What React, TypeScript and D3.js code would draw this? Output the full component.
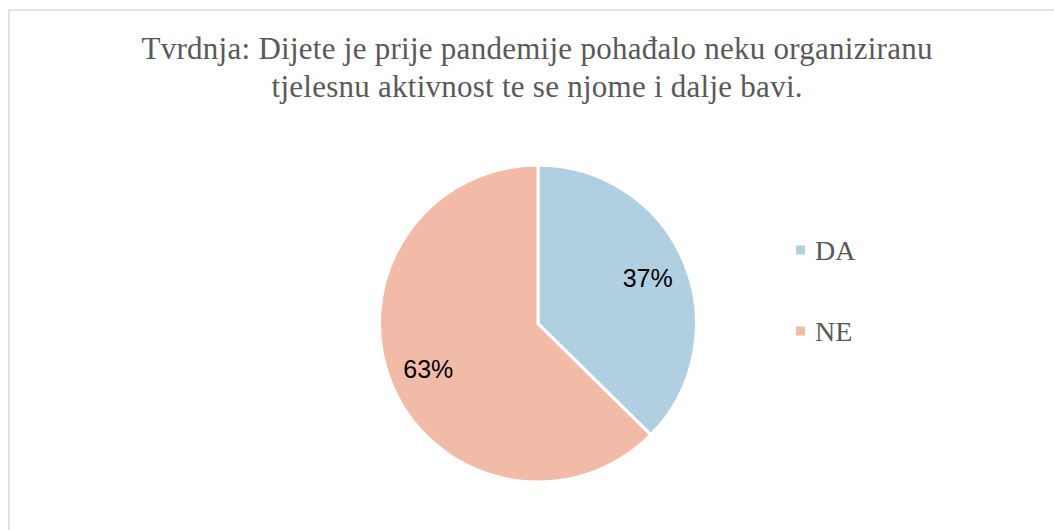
import React from "react";
import * as d3 from "d3";

const categories = ["DA", "NE"];
const values = [37.4, 62.6];
const labels = ["37%", "63%"];
const colors = ["#b0d0e2", "#f2bba8"];
const titleLines = [
  "Tvrdnja: Dijete je prije pandemije pohađalo neku organiziranu",
  "tjelesnu aktivnost te se njome i dalje bavi.",
];

export default function App() {
  const W = 1054, H = 530;
  const cx = 538, cy = 323.5, r = 158.5;
  const pie = d3.pie<number>().sort(null)(values);
  const arc = d3.arc<d3.PieArcDatum<number>>().innerRadius(0).outerRadius(r);
  const labelArc = d3.arc<d3.PieArcDatum<number>>().innerRadius(r * 0.75).outerRadius(r * 0.75);
  const legendY = d3.scalePoint<string>().domain(categories).range([250, 331]);
  const titleWidths = [791, 531];
  return (
    <svg width={W} height={H} style={{ position: "absolute", left: 0, top: 0 }}>
      <rect x={0} y={0} width={W} height={H} fill="#fff" />
      <rect x={9} y={10} width={W + 20} height={H + 20} fill="none" stroke="#d9d9d9" strokeWidth={1.5} />
      {titleLines.map((t, i) => (
        <text key={i} x={537} y={59 + i * 37.5} textAnchor="middle" textLength={titleWidths[i]} lengthAdjust="spacing" fontFamily="'Liberation Serif', 'Times New Roman', serif" fontSize={31} fill="#595959">
          {t}
        </text>
      ))}
      <g transform={`translate(${cx},${cy})`}>
        {pie.map((d, i) => (
          <path key={i} d={arc(d) || ""} fill={colors[i]} stroke="#fff" strokeWidth={3} />
        ))}
        {pie.map((d, i) => {
          const [x, y] = labelArc.centroid(d);
          return (
            <text key={i} x={x} y={y} textAnchor="middle" dominantBaseline="central" fontFamily="'Liberation Sans', Arial, sans-serif" fontSize={25} fill="#000">
              {labels[i]}
            </text>
          );
        })}
      </g>
      {categories.map((c, i) => (
        <g key={c}>
          <rect x={796} y={(legendY(c) as number) - 4.5} width={9} height={9} fill={colors[i]} />
          <text x={815} y={(legendY(c) as number) + 10} fontFamily="'Liberation Serif', 'Times New Roman', serif" fontSize={28} fill="#595959">
            {c}
          </text>
        </g>
      ))}
    </svg>
  );
}
